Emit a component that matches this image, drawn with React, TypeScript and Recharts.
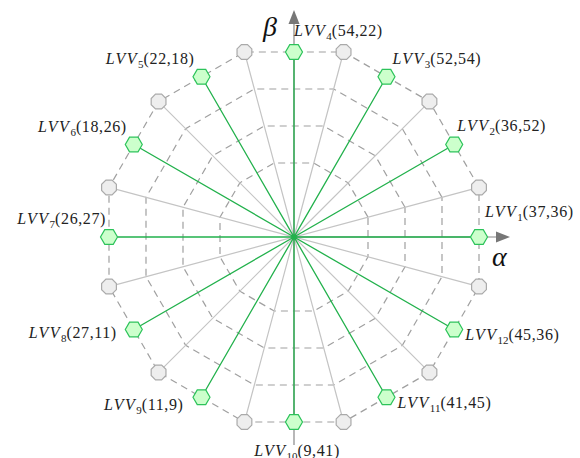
import { ScatterChart, Scatter, XAxis, YAxis } from "recharts";

// vector diagram data
const vectorIndex = [1, 2, 3, 4, 5, 6, 7, 8, 9, 10, 11, 12];
const firstValues = [37, 36, 52, 54, 22, 18, 26, 27, 11, 9, 41, 45];
const secondValues = [36, 52, 54, 22, 18, 26, 27, 11, 9, 41, 45, 36];
const vectorAngles = [0, 30, 60, 90, 120, 150, 180, 210, 240, 270, 300, 330];
const sideAngles = [15, 45, 75, 105, 135, 165, 195, 225, 255, 285, 315, 345];
const ringLevels = [0.4, 0.6, 0.8, 1.0];
const axisNames = ["α", "β"];

// layout / style
const W = 580;
const H = 458;
const CX = 294;
const CY = 237;
const R = 185;
const ARROW_X = 216;
const ARROW_Y = 227;
const labelOffsets: [number, number, string][] = [
  [6, -20, "start"],
  [3, -14, "start"],
  [6, -13, "start"],
  [0, -16, "start"],
  [-7, -13, "end"],
  [-7, -13, "end"],
  [-3, -13, "end"],
  [-17, 8, "end"],
  [-18, 13, "end"],
  [3, 34, "middle"],
  [11, 11, "start"],
  [11, 10, "start"],
];
const axisLabelOffsets = [
  [-18, 29],
  [-31, 26],
];

const FONT = "'Liberation Serif', 'Times New Roman', serif";
const GREEN = "#22b14c";

const rad = (d: number) => (d * Math.PI) / 180;
const polar = (deg: number, r: number) => ({ x: r * Math.cos(rad(deg)), y: r * Math.sin(rad(deg)) });

const vectors = vectorAngles.map((a, i) => ({
  ...polar(a, R),
  k: i,
  idx: vectorIndex[i],
  v1: firstValues[i],
  v2: secondValues[i],
}));
const corner = R / Math.cos(rad(15));
const sides = sideAngles.map((a) => polar(a, corner));

const rings = ringLevels.map((lv) => {
  const pts = sideAngles.map((a) => polar(a, corner * lv));
  return [...pts, pts[0]];
});

const spokes = (pts: { x: number; y: number }[]) => pts.flatMap((p) => [{ x: 0, y: 0 }, p]);

const axisStems = [
  [{ x: 0, y: 0 }, { x: ARROW_X - 10, y: 0 }],
  [{ x: 0, y: -208 }, { x: 0, y: ARROW_Y - 10 }],
];
const arrowTips = [
  { x: ARROW_X, y: 0, dir: 0, name: axisNames[0] },
  { x: 0, y: ARROW_Y, dir: 1, name: axisNames[1] },
];

const empty = () => <g />;

const Hexagon = (props: any) => {
  const { cx, cy, payload } = props;
  const a = 8.5;
  const pts = [0, 60, 120, 180, 240, 300]
    .map((d) => `${cx + a * Math.cos(rad(d))},${cy + a * Math.sin(rad(d))}`)
    .join(" ");
  const [dx, dy, anchor] = labelOffsets[payload.k];
  return (
    <g>
      <polygon points={pts} fill="#ccffcc" stroke="#2cc35a" strokeWidth={1.2} />
      <text x={cx + dx} y={cy + dy} textAnchor={anchor} fontFamily={FONT} fontSize={16} fill="#222">
        <tspan fontStyle="italic" letterSpacing={1.5}>LVV</tspan>
        <tspan fontSize={11} dy={4}>{payload.idx}</tspan>
        <tspan dy={-4} letterSpacing={0.6}>({payload.v1},{payload.v2})</tspan>
      </text>
    </g>
  );
};

const Octagon = (props: any) => {
  const { cx, cy } = props;
  const a = 8;
  const pts = [22.5, 67.5, 112.5, 157.5, 202.5, 247.5, 292.5, 337.5]
    .map((d) => `${cx + a * Math.cos(rad(d))},${cy + a * Math.sin(rad(d))}`)
    .join(" ");
  return <polygon points={pts} fill="#eeeeee" stroke="#aaaaaa" strokeWidth={1.2} />;
};

const Arrow = (props: any) => {
  const { cx, cy, payload } = props;
  const pts =
    payload.dir === 0
      ? `${cx},${cy} ${cx - 14},${cy - 5.5} ${cx - 14},${cy + 5.5}`
      : `${cx},${cy} ${cx - 5.5},${cy + 14} ${cx + 5.5},${cy + 14}`;
  const [dx, dy] = axisLabelOffsets[payload.dir];
  return (
    <g>
      <polygon points={pts} fill="#777777" />
      <text x={cx + dx} y={cy + dy} fontFamily={FONT} fontStyle="italic" fontSize={28} fill="#111">
        {payload.name}
      </text>
    </g>
  );
};

export default function App() {
  return (
    <div style={{ position: "absolute", left: 0, top: 0, width: W, height: H, background: "#fff" }}>
      <ScatterChart width={W} height={H} margin={{ top: 0, right: 0, bottom: 0, left: 0 }}>
        <XAxis type="number" dataKey="x" domain={[-CX, W - CX]} hide />
        <YAxis type="number" dataKey="y" domain={[CY - H, CY]} hide />
        {rings.map((ring, i) => (
          <Scatter
            key={`ring${i}`}
            data={ring}
            line={{ stroke: "#a0a0a0", strokeWidth: 1.2, strokeDasharray: "7 5" }}
            shape={empty}
            isAnimationActive={false}
          />
        ))}
        <Scatter data={spokes(sides)} line={{ stroke: "#c4c4c4", strokeWidth: 1.2 }} shape={empty} isAnimationActive={false} />
        {axisStems.map((s, i) => (
          <Scatter key={`axis${i}`} data={s} line={{ stroke: "#888888", strokeWidth: 1.2 }} shape={empty} isAnimationActive={false} />
        ))}
        <Scatter data={spokes(vectors)} line={{ stroke: GREEN, strokeWidth: 1.3 }} shape={empty} isAnimationActive={false} />
        <Scatter data={sides} shape={Octagon} isAnimationActive={false} />
        <Scatter data={arrowTips} shape={Arrow} isAnimationActive={false} />
        <Scatter data={vectors} shape={Hexagon} isAnimationActive={false} />
      </ScatterChart>
    </div>
  );
}
